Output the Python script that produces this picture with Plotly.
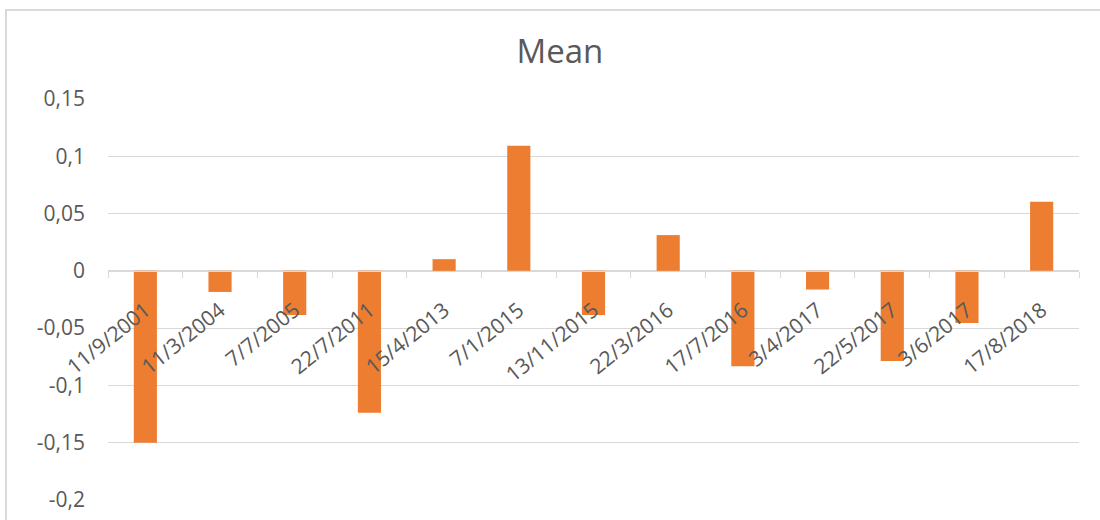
import plotly.graph_objects as go

categories = ["11/9/2001", "11/3/2004", "7/7/2005", "22/7/2011", "15/4/2013", "7/1/2015",
              "13/11/2015", "22/3/2016", "17/7/2016", "3/4/2017", "22/5/2017", "3/6/2017", "17/8/2018"]
mean_values = [-0.150, -0.0184, -0.0385, -0.1238, 0.0102, 0.1093,
               -0.0385, 0.0312, -0.0833, -0.0163, -0.0787, -0.0455, 0.0603]
y_tick_vals = [-0.2, -0.15, -0.1, -0.05, 0, 0.05, 0.1, 0.15]
y_tick_text = ["-0,2", "-0,15", "-0,1", "-0,05", "0", "0,05", "0,1", "0,15"]

grey_text = "#595959"
grid = "#D9D9D9"

fig = go.Figure(go.Bar(x=categories, y=mean_values, marker_color="#ED7D31",
                       marker_line_width=0, width=0.31, name="Mean"))

y_min, y_max = -0.2, 0.15
zero_pos = (0 - y_min) / (y_max - y_min)

L, R, T, B = 108, 21, 99, 20
pw, ph = 1100 - L - R, 520 - T - B

fig.update_layout(
    width=1100, height=520,
    margin=dict(l=L, r=R, t=T, b=B, autoexpand=False),
    paper_bgcolor="white", plot_bgcolor="white",
    showlegend=False,
    title=dict(text="Mean", x=0.509, xanchor="center", y=0.902, yanchor="middle",
               font=dict(family="Open Sans", size=33, color=grey_text)),
    font=dict(family="Open Sans", color=grey_text),
    xaxis=dict(type="category", anchor="free", position=zero_pos, automargin=False,
               range=[-0.5, len(categories) - 0.5],
               showline=True, linecolor=grid, linewidth=1,
               ticks="outside", ticklen=6, tickcolor=grid, tickwidth=1,
               tickson="boundaries", showgrid=False, tickangle=-39,
               ticklabelstandoff=18,
               tickfont=dict(family="Open Sans", size=21, color=grey_text)),
    yaxis=dict(range=[y_min, y_max], tickvals=y_tick_vals, ticktext=y_tick_text,
               automargin=False,
               showgrid=True, gridcolor=grid, gridwidth=1, zeroline=False,
               showline=False, ticks="", ticklabelstandoff=22,
               tickfont=dict(family="Open Sans", size=21, color=grey_text)),
    shapes=[dict(type="rect", xref="paper", yref="paper",
                 x0=(6 - L) / pw, x1=1.2, y0=-0.3, y1=(520 - B - 10) / ph,
                 line=dict(color="#D9D9D9", width=2), fillcolor="rgba(0,0,0,0)", layer="below")],
)

fig.write_html("out.html")
